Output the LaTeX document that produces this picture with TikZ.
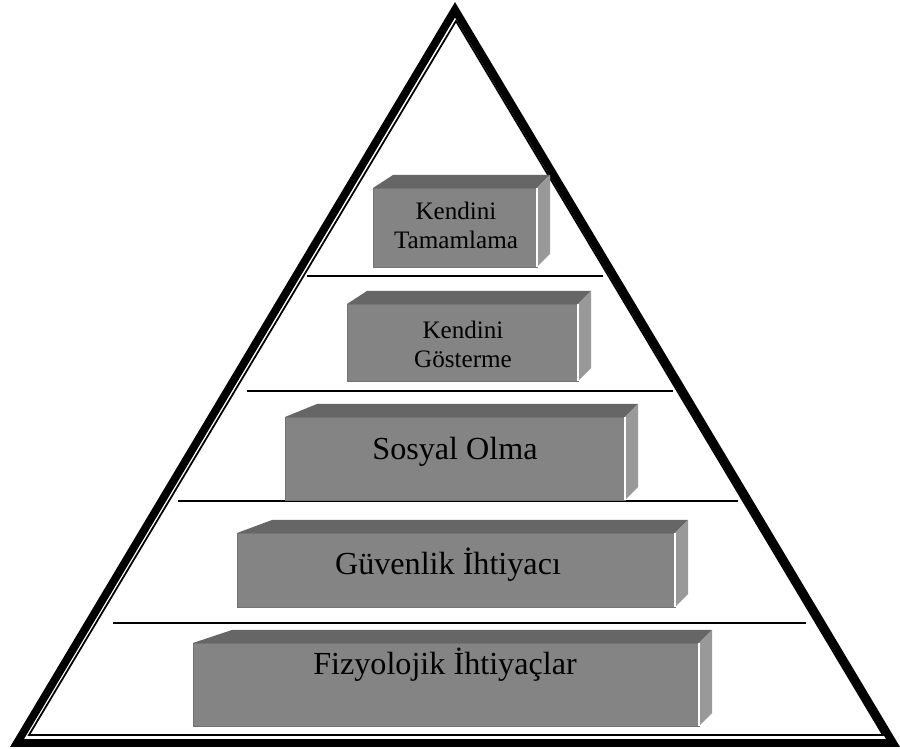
\documentclass[tikz,border=0pt]{standalone}
\usepackage{fontspec}
\setmainfont{Liberation Serif}
\usepackage{xcolor}
\definecolor{frontgray}{RGB}{132,132,132}
\definecolor{topgray}{RGB}{102,102,102}
\definecolor{sidegray}{RGB}{153,153,153}

\begin{document}
\begin{tikzpicture}[x=0.02cm,y=-0.02cm]
  \def\dr{13}
  \def\dt{13}
  \useasboundingbox (0,0) rectangle (900,749);

%pyramid:
  \draw[line width=4.5pt] (455,9.8) -- (893,743) -- (17,743) -- cycle;
  \draw[line width=1pt] (456,21) -- (883,735) -- (29,735) -- cycle;
  \draw[line width=1pt] (307,276) -- (603,276);
  \draw[line width=1pt] (247,391) -- (673,391);
  \draw[line width=1pt] (178,501) -- (738,501);
  \draw[line width=1pt] (113,623) -- (806,623);
%%%%%%

%boxes: left/right/top/bottom/back-left shift
  \foreach \l/\r/\t/\b/\dl in {373/537/188/267/20, 347/578/304/381/20, 285/625/417/500/32, 237/675/533/607/35, 193/699/643/726/39}{
    \fill[topgray] (\l,\t) -- (\l+\dl,\t-\dt) -- (\r+\dr,\t-\dt) -- (\r,\t) -- cycle;
    \fill[sidegray] (\r,\t) -- (\r+\dr,\t-\dt) -- (\r+\dr,\b-\dt) -- (\r,\b) -- cycle;
    \fill[frontgray, draw=black!55, line width=0.5pt] (\l,\t) rectangle (\r,\b);
    \draw[white, line width=0.8pt] (\r,\t) -- (\r,\b);
  }

  \node[font=\fontsize{14.3}{16.5}\selectfont, align=center] (tamamlama) at (456,225.4) {Kendini\\Tamamlama};
  \node[font=\fontsize{14.3}{16.5}\selectfont, align=center] (gosterme) at (463,344.4) {Kendini\\Gösterme};
  \node[font=\fontsize{18.3}{21}\selectfont, anchor=base] (sosyal) at (455,460) {Sosyal Olma};
  \node[font=\fontsize{18.3}{21}\selectfont, anchor=base] (guvenlik) at (448,575) {Güvenlik İhtiyacı};
  \node[font=\fontsize{18.3}{21}\selectfont, anchor=base] (fizyolojik) at (445,675) {Fizyolojik İhtiyaçlar};
\end{tikzpicture}
\end{document}
